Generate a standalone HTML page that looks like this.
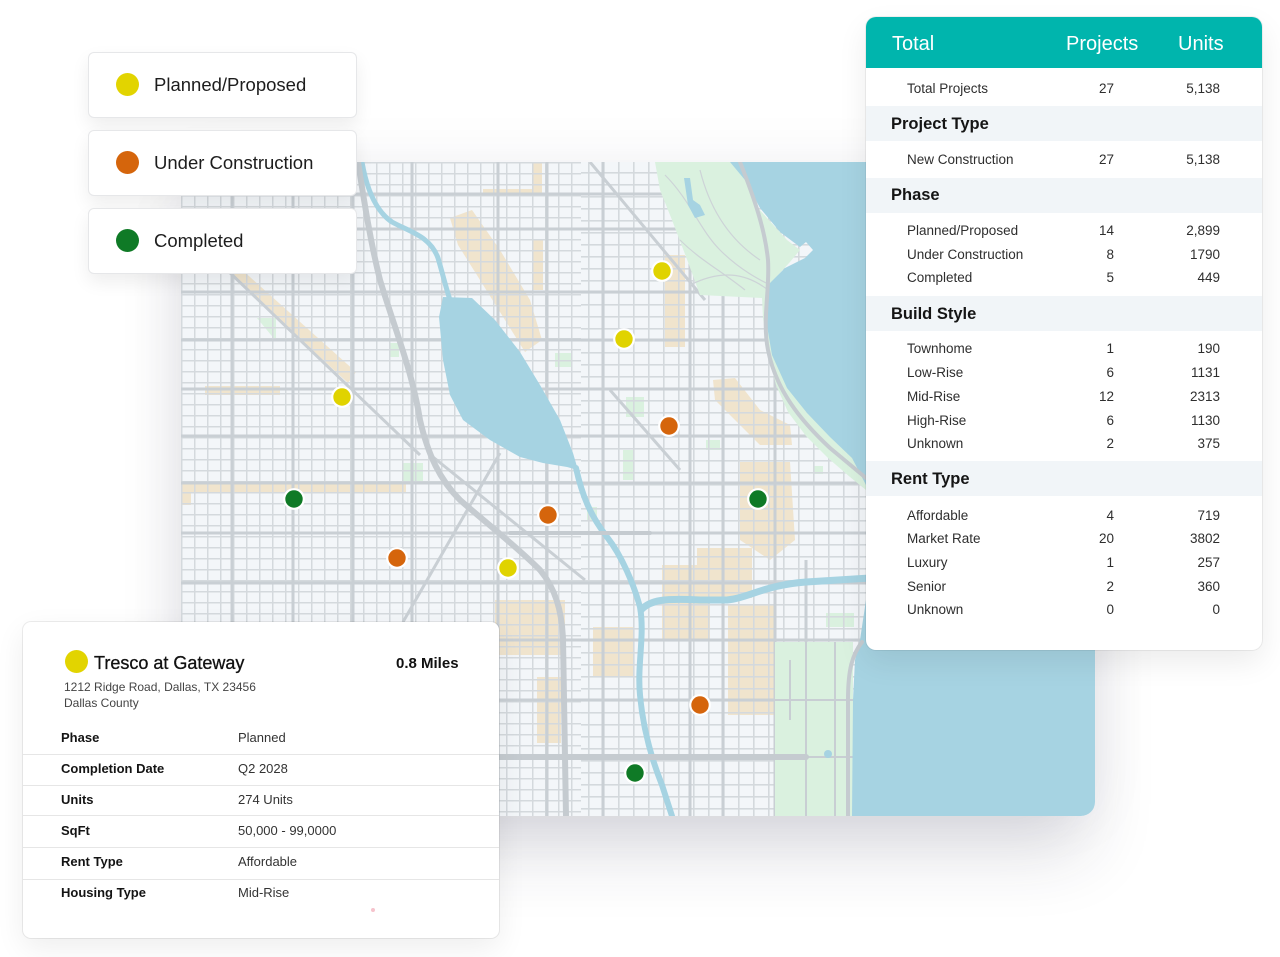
<!DOCTYPE html>
<html><head><meta charset="utf-8">
<style>
*{margin:0;padding:0;box-sizing:border-box}
html,body{width:1280px;height:957px;background:#fff;overflow:hidden}
body{position:relative;font-family:"Liberation Sans",Arial,sans-serif;color:#222}
.map{position:absolute;left:181px;top:162px;width:914px;height:654px;border-radius:14px;overflow:hidden;box-shadow:0 45px 70px -10px rgba(40,40,70,0.16),0 0 60px rgba(40,40,70,0.06)}
.leg{position:absolute;left:88px;width:269px;height:66px;background:#fff;border:1px solid #e6e7e9;border-radius:6px;box-shadow:0 8px 18px rgba(0,0,0,0.07)}
.leg .d{position:absolute;left:27px;top:20px;width:23px;height:23px;border-radius:50%}
.leg .t{position:absolute;left:65px;top:0;line-height:64px;font-size:18.5px;color:#1d1d1d}
.tbl{position:absolute;left:866px;top:17px;width:396px;height:633px;background:#fff;border-radius:10px;overflow:hidden;box-shadow:0 0 0 1px rgba(0,0,0,0.06),0 12px 30px rgba(0,0,0,0.08)}
.hd{position:absolute;left:0;top:0;width:396px;height:51px;background:#00b5ad}
.ht{position:absolute;top:15px;line-height:24px;font-size:20px;color:#fff}
.band{position:absolute;left:0;width:396px;height:35px;background:#f1f5f8}
.sh{position:absolute;left:25px;line-height:20px;font-size:16.5px;font-weight:bold;color:#151515}
.rl{position:absolute;left:41px;line-height:18px;font-size:13.5px;color:#2e2e2e}
.rp{position:absolute;right:148px;line-height:18px;font-size:13.5px;color:#2e2e2e;text-align:right}
.ru{position:absolute;right:42px;line-height:18px;font-size:13.5px;color:#2e2e2e;text-align:right}
.info{position:absolute;left:23px;top:622px;width:476px;height:316px;background:#fff;border-radius:8px;box-shadow:0 0 0 1px rgba(0,0,0,0.07),0 10px 30px rgba(0,0,0,0.07)}
.il{position:absolute;left:38px;line-height:16px;font-size:13px;font-weight:bold;color:#141414}
.iv{position:absolute;left:215px;line-height:16px;font-size:13px;color:#333}
.dv{position:absolute;left:0;width:476px;height:1px;background:#e6e6e6}
</style></head><body>

<div class="map">
<svg width="914" height="654" viewBox="181 162 914 654" xmlns="http://www.w3.org/2000/svg">
<defs>
<pattern id="st" patternUnits="userSpaceOnUse" x="181" y="162" width="13" height="11">
<rect x="0" y="0" width="1.5" height="11" fill="#d4d9dd"/>
<rect x="0" y="0" width="13" height="1.5" fill="#d4d9dd"/>
</pattern>
<pattern id="st2" patternUnits="userSpaceOnUse" x="3" y="4" width="15" height="12">
<rect x="0" y="0" width="1.6" height="12" fill="#d4d9dd"/>
<rect x="0" y="0" width="15" height="1.6" fill="#d4d9dd"/>
</pattern>
</defs>
<rect x="181" y="162" width="914" height="654" fill="#f3f6f9"/>
<g fill="#f0e4cd">
<polygon points="232,276 241,269 356,372 348,383"/>
<rect x="205" y="386" width="75" height="9"/>
<rect x="181" y="482" width="225" height="10"/>
<rect x="181" y="490" width="10" height="15"/>
<polygon points="450,218 472,210 500,250 530,300 542,340 525,352 505,320 480,280 458,245"/>
<rect x="533" y="240" width="10" height="50"/>
<rect x="532" y="163" width="10" height="30"/>
<rect x="483" y="189" width="50" height="7"/>
<rect x="665" y="255" width="20" height="92"/>
<polygon points="713,380 735,378 760,410 790,425 792,445 760,445 735,420 715,400"/>
<polygon points="740,462 790,462 795,540 770,560 740,540"/>
<rect x="697" y="548" width="55" height="50"/>
<rect x="495" y="600" width="70" height="55"/>
<rect x="593" y="627" width="40" height="50"/>
<rect x="662" y="565" width="48" height="75"/>
<rect x="728" y="605" width="46" height="110"/>
<rect x="537" y="677" width="24" height="66"/>
<rect x="667" y="573" width="33" height="14"/>
</g>
<g fill="#daf1df">
<polygon points="257,318 276,318 276,341"/>
<rect x="390" y="343" width="9" height="14"/>
<rect x="403" y="463" width="20" height="20"/>
<rect x="555" y="353" width="17" height="14"/>
<rect x="626" y="397" width="18" height="20"/>
<rect x="623" y="450" width="10" height="30"/>
<rect x="587" y="507" width="10" height="13"/>
<rect x="706" y="440" width="14" height="10"/>
<rect x="813" y="466" width="10" height="8"/>
<rect x="826" y="613" width="28" height="14"/>
</g>
<rect x="181" y="162" width="400" height="654" fill="url(#st)"/>
<rect x="581" y="162" width="514" height="654" fill="url(#st2)"/>
<g stroke="#c9cfd4" stroke-width="3" fill="none">
<path d="M181 194H866M181 229H866M181 292H866M181 340H866M181 389H866M181 436H866M181 483H866M181 533H866M181 583H866M181 640H866M181 700H866"/>
<path d="M232 162V816M293 162V816M353 162V816M412 162V816M498 162V816M547 162V816M603 162V816M690 162V816M723 162V816M775 300V816M806 560V816"/>
<path d="M500 453L403 622M433 457L585 580M225 268L420 455M590 162L705 300M610 390L680 470"/>
</g>
<polygon fill="#daf1df" points="655,162 730,162 743,173 757,207 787,240 800,250 790,262 767,287 767,313 773,353 787,387 807,413 827,433 850,455 866,468 866,490 850,477 828,458 806,436 788,412 776,385 768,352 763,318 762,298 700,295 688,262 672,220 660,190"/>
<g stroke="#cdd3d7" stroke-width="1.2" fill="none">
<path d="M665 175C690 200 700 230 720 250S760 280 770 285"/>
<path d="M700 170C710 210 730 240 760 260"/>
<path d="M680 240C700 260 720 270 745 290"/>
<path d="M690 285C720 270 745 272 768 290"/>
</g>
<rect x="775" y="642" width="78" height="174" fill="#daf1df"/>
<g stroke="#c8ced3" stroke-width="2" fill="none">
<path d="M806 642V816M835 642V816M775 700H853M775 757H853M790 660V720"/>
</g>
<g fill="#a6d3e2">
<polygon points="730,162 1095,162 1095,816 852,816 853,700 855,660 860,640 866,600 866,485 852,458 830,437 807,413 787,388 772,355 766,320 768,285 785,268 805,258 813,250 806,242 800,247 780,232 760,208 745,180"/>
<polygon points="443,297 472,298 495,320 520,352 540,385 560,420 573,453 578,470 567,467 543,463 520,457 490,440 463,420 450,395 443,360 439,317"/>
<polygon points="684,178 690,178 693,200 700,205 705,215 695,218 688,205"/>
<circle cx="828" cy="754" r="4"/>
</g>
<g stroke="#a6d3e2" fill="none" stroke-linecap="round">
<path stroke-width="5" d="M362 162C366 185 374 210 392 222C410 232 430 236 438 258C443 275 446 288 450 300"/>
<path stroke-width="6" d="M576 468C582 495 590 515 607 537C622 556 634 585 640 607C645 635 637 665 640 695C643 728 652 760 662 785L672 816"/>
<path stroke-width="7" d="M641 610C650 600 665 598 700 600L727 600C748 598 765 585 806 582L870 578"/>
</g>
<g stroke="#c5cbd0" fill="none" stroke-linecap="round">
<path stroke-width="6" d="M358 162C364 200 370 240 380 280C395 330 412 370 420 420C428 455 440 480 460 500C485 522 515 545 540 570C555 588 562 610 563 640L566 816"/>
<path stroke-width="6" d="M490 757H806"/>
<path stroke-width="4" d="M740 162C755 200 765 230 768 260C770 290 762 320 768 350C776 390 800 420 830 448L866 478"/>
<path stroke-width="4" d="M862 642C852 655 848 670 848 700L848 816"/>
<path stroke-width="4" d="M510 533H650"/>
</g>
<g stroke="#fff" stroke-width="2.2">
<circle cx="662" cy="271" r="9.8" fill="#e0d300"/>
<circle cx="624" cy="339" r="9.8" fill="#e0d300"/>
<circle cx="342" cy="397" r="9.8" fill="#e0d300"/>
<circle cx="508" cy="568" r="9.8" fill="#e0d300"/>
<circle cx="669" cy="426" r="9.8" fill="#d5650c"/>
<circle cx="548" cy="515" r="9.8" fill="#d5650c"/>
<circle cx="397" cy="558" r="9.8" fill="#d5650c"/>
<circle cx="700" cy="705" r="9.8" fill="#d5650c"/>
<circle cx="294" cy="499" r="9.8" fill="#0f7a26"/>
<circle cx="758" cy="499" r="9.8" fill="#0f7a26"/>
<circle cx="635" cy="773" r="9.8" fill="#0f7a26"/>
</g>
</svg>
</div>

<div class="leg" style="top:52px"><div class="d" style="background:#e2d400"></div><div class="t">Planned/Proposed</div></div>
<div class="leg" style="top:130px"><div class="d" style="background:#d5650c"></div><div class="t">Under Construction</div></div>
<div class="leg" style="top:208px"><div class="d" style="background:#0f7a26"></div><div class="t">Completed</div></div>

<div class="tbl">
<div class="hd"></div>
<div class="ht" style="left:26px">Total</div>
<div class="ht" style="left:200px">Projects</div>
<div class="ht" style="left:312px">Units</div>

<div class="rl" style="top:63px">Total Projects</div><div class="rp" style="top:63px">27</div><div class="ru" style="top:63px">5,138</div>

<div class="band" style="top:89px"></div><div class="sh" style="top:97px">Project Type</div>
<div class="rl" style="top:134px">New Construction</div><div class="rp" style="top:134px">27</div><div class="ru" style="top:134px">5,138</div>

<div class="band" style="top:161px"></div><div class="sh" style="top:168px">Phase</div>
<div class="rl" style="top:205px">Planned/Proposed</div><div class="rp" style="top:205px">14</div><div class="ru" style="top:205px">2,899</div>
<div class="rl" style="top:229px">Under Construction</div><div class="rp" style="top:229px">8</div><div class="ru" style="top:229px">1790</div>
<div class="rl" style="top:252px">Completed</div><div class="rp" style="top:252px">5</div><div class="ru" style="top:252px">449</div>

<div class="band" style="top:279px"></div><div class="sh" style="top:287px">Build Style</div>
<div class="rl" style="top:323px">Townhome</div><div class="rp" style="top:323px">1</div><div class="ru" style="top:323px">190</div>
<div class="rl" style="top:347px">Low-Rise</div><div class="rp" style="top:347px">6</div><div class="ru" style="top:347px">1131</div>
<div class="rl" style="top:371px">Mid-Rise</div><div class="rp" style="top:371px">12</div><div class="ru" style="top:371px">2313</div>
<div class="rl" style="top:395px">High-Rise</div><div class="rp" style="top:395px">6</div><div class="ru" style="top:395px">1130</div>
<div class="rl" style="top:418px">Unknown</div><div class="rp" style="top:418px">2</div><div class="ru" style="top:418px">375</div>

<div class="band" style="top:444px"></div><div class="sh" style="top:452px">Rent Type</div>
<div class="rl" style="top:490px">Affordable</div><div class="rp" style="top:490px">4</div><div class="ru" style="top:490px">719</div>
<div class="rl" style="top:513px">Market Rate</div><div class="rp" style="top:513px">20</div><div class="ru" style="top:513px">3802</div>
<div class="rl" style="top:537px">Luxury</div><div class="rp" style="top:537px">1</div><div class="ru" style="top:537px">257</div>
<div class="rl" style="top:561px">Senior</div><div class="rp" style="top:561px">2</div><div class="ru" style="top:561px">360</div>
<div class="rl" style="top:584px">Unknown</div><div class="rp" style="top:584px">0</div><div class="ru" style="top:584px">0</div>
</div>

<div class="info">
<div style="position:absolute;left:42px;top:28px;width:23px;height:23px;border-radius:50%;background:#e2d400"></div>
<div style="position:absolute;left:71px;top:30px;line-height:22px;font-size:18px;color:#111;-webkit-text-stroke:0.3px #111">Tresco at Gateway</div>
<div style="position:absolute;left:373px;top:33px;line-height:18px;font-size:15px;font-weight:bold;color:#111">0.8 Miles</div>
<div style="position:absolute;left:41px;top:57px;line-height:16px;font-size:12px;color:#444">1212 Ridge Road, Dallas, TX 23456</div>
<div style="position:absolute;left:41px;top:73px;line-height:16px;font-size:12px;color:#444">Dallas County</div>

<div class="il" style="top:108px">Phase</div><div class="iv" style="top:108px">Planned</div>
<div class="dv" style="top:132px"></div>
<div class="il" style="top:139px">Completion Date</div><div class="iv" style="top:139px">Q2 2028</div>
<div class="dv" style="top:163px"></div>
<div class="il" style="top:170px">Units</div><div class="iv" style="top:170px">274 Units</div>
<div class="dv" style="top:193px"></div>
<div class="il" style="top:201px">SqFt</div><div class="iv" style="top:201px">50,000 - 99,0000</div>
<div class="dv" style="top:225px"></div>
<div class="il" style="top:232px">Rent Type</div><div class="iv" style="top:232px">Affordable</div>
<div class="dv" style="top:257px"></div>
<div class="il" style="top:263px">Housing Type</div><div class="iv" style="top:263px">Mid-Rise</div>
<div style="position:absolute;left:348px;top:286px;width:4px;height:4px;border-radius:50%;background:#f6c3cc"></div>
</div>

</body></html>
